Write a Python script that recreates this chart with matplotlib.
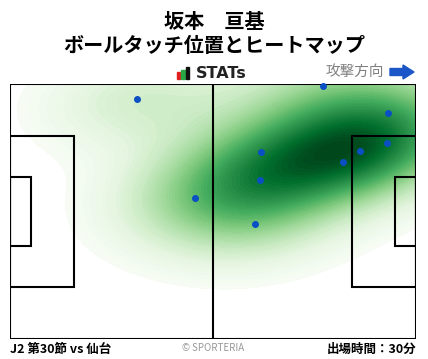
import numpy as np
import matplotlib
matplotlib.use("Agg")
import matplotlib.pyplot as plt
from matplotlib.patches import Rectangle, FancyArrow

plt.rcParams['font.family'] = ['Noto Sans CJK JP', 'DejaVu Sans']

# Ball touch positions (pitch metres, x: 0-105 towards attack, y: 0-68 from top)
touch_x = [32.8, 47.8, 80.9, 97.8, 97.5, 90.5, 86.1, 64.9, 64.7, 63.4]
touch_y = [4.0, 30.4, 0.5, 7.7, 15.7, 17.9, 20.8, 18.1, 25.6, 37.3]

title_name = "坂本　亘基"
title_sub = "ボールタッチ位置とヒートマップ"
footer_left = "J2 第30節 vs 仙台"
footer_mid = "© SPORTERIA"
footer_right = "出場時間：30分"

W, H = 428, 359
fig = plt.figure(figsize=(W / 100, H / 100), dpi=100)

# pitch axes in pixel coords
px0, px1, py0, py1 = 10, 416, 84, 339
ax = fig.add_axes([px0 / W, 1 - py1 / H, (px1 - px0) / W, (py1 - py0) / H])
ax.set_xlim(0, 105)
ax.set_ylim(68, 0)
ax.axis('off')

# Gaussian KDE (scott bandwidth, widened, full covariance)
pts = np.vstack([touch_x, touch_y])
n = pts.shape[1]
cov = np.cov(pts) * (n ** (-1 / 3)) * 1.45
inv = np.linalg.inv(cov)
gx, gy = np.meshgrid(np.linspace(0, 105, 300), np.linspace(0, 68, 200))
grid = np.vstack([gx.ravel(), gy.ravel()])
d = grid[:, :, None] - pts[:, None, :]
m = np.einsum('ijk,il,ljk->jk', d, inv, d)
z = np.exp(-0.5 * m).sum(axis=1).reshape(gx.shape)
z = z / z.max()
levels = np.linspace(0.05, 1.0, 60)
ax.contourf(gx, gy, z, levels=levels, cmap='Greens', extend='max', zorder=1)

# pitch lines
lw = 1.5
kw = dict(fill=False, edgecolor='black', linewidth=lw, zorder=3)
ax.add_patch(Rectangle((0, 0), 105, 68, **kw))
ax.plot([52.5, 52.5], [0, 68], color='black', linewidth=lw, zorder=3)
ax.add_patch(Rectangle((0, 13.84), 16.5, 40.32, **kw))
ax.add_patch(Rectangle((0, 24.84), 5.5, 18.32, **kw))
ax.add_patch(Rectangle((105 - 16.5, 13.84), 16.5, 40.32, **kw))
ax.add_patch(Rectangle((105 - 5.5, 24.84), 5.5, 18.32, **kw))

ax.scatter(touch_x, touch_y, s=16, color='#0a4fc4', zorder=4, clip_on=False)

# texts
fig.text(0.5, 1 - 21 / H, title_name, ha='center', va='center', fontsize=14.5, fontweight='bold')
fig.text(0.5, 1 - 46 / H, title_sub, ha='center', va='center', fontsize=14.5, fontweight='bold')

# STATs logo
lax = fig.add_axes([0, 0, 1, 1], facecolor='none')
lax.set_xlim(0, W)
lax.set_ylim(H, 0)
lax.axis('off')
lax.add_patch(Rectangle((177, 72), 3.5, 6.5, color='#e02020'))
lax.add_patch(Rectangle((181.5, 70), 3.5, 8.5, color='#28a745'))
lax.add_patch(Rectangle((186, 66.5), 3.5, 12, color='#111111'))
lax.text(196, 73, "STATs", ha='left', va='center', fontsize=11.5, fontweight='bold',
         color='#222222', family=['DejaVu Sans'])
lax.text(384, 72, "攻撃方向", ha='right', va='center', fontsize=10.5, color='#808080')
lax.add_patch(FancyArrow(390, 72, 13, 0, width=7, head_width=14, head_length=11,
                         length_includes_head=False, color='#1a56c8'))

lax.text(10, 349, footer_left, ha='left', va='center', fontsize=9, fontweight='bold')
lax.text(213, 348, footer_mid, ha='center', va='center', fontsize=7, color='#999999')
lax.text(416, 349, footer_right, ha='right', va='center', fontsize=9, fontweight='bold')

fig.savefig("out.png", dpi=100, facecolor='white')
